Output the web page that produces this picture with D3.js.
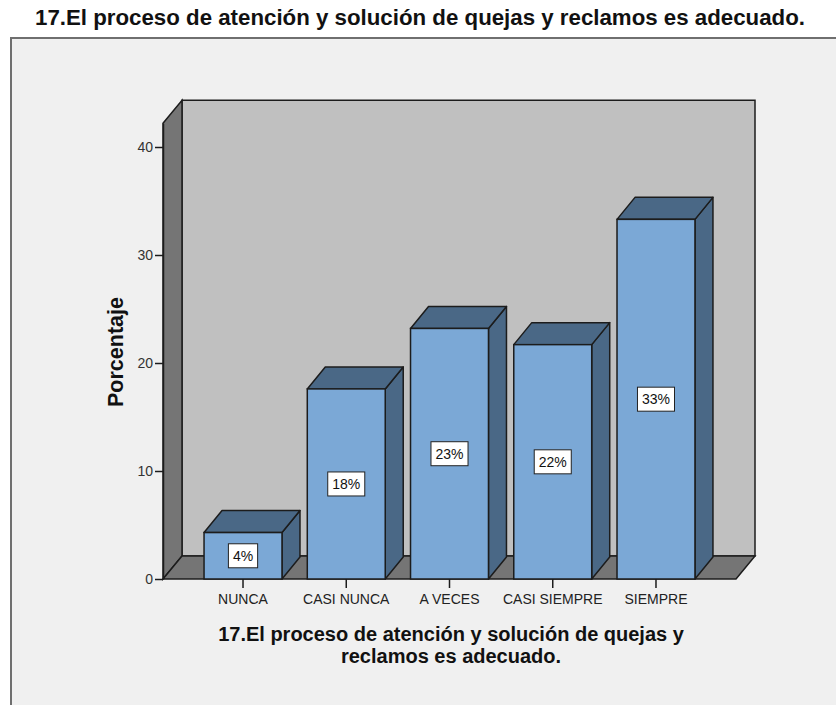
<!DOCTYPE html>
<html>
<head>
<meta charset="utf-8">
<script src="https://cdn.jsdelivr.net/npm/d3@7"></script>
<style>
  html, body { margin: 0; padding: 0; background: #ffffff; }
  svg { display: block; font-family: "Liberation Sans", Arial, sans-serif; }
</style>
</head>
<body>
<svg id="chart" width="836" height="705"></svg>
<script>
// Response categories and the share of answers for each (percent)
const categories = ["NUNCA", "CASI NUNCA", "A VECES", "CASI SIEMPRE", "SIEMPRE"];
const percentages = [4.3, 17.6, 23.2, 21.7, 33.3];
const yTicks = [0, 10, 20, 30, 40];
const chartTitle = "17.El proceso de atención y solución de quejas y reclamos es adecuado.";
const xTitleLines = ["17.El proceso de atención y solución de quejas y", "reclamos es adecuado."];
const yTitle = "Porcentaje";

const svg = d3.select("#chart");

// colours of the 3-D look
const C = {
  front: "#7ba8d6",
  shade: "#4a6886",
  backWall: "#c0c0c0",
  sideWall: "#757575",
  edge: "#1c1c1c",
  panel: "#f0f0f0"
};

// plot geometry
const x0 = 163, x1 = 736, yBase = 579, yTopPx = 147;
const wallDx = 19, wallDy = 23;   // depth of the walls/floor
const barDx = 18, barDy = 22;     // depth of each bar
const yMax = 42.2;

const y = d3.scaleLinear().domain([0, 40]).range([yBase, yTopPx]);
const x = d3.scaleBand().domain(categories).range([x0, x1])
  .paddingInner(0.245).paddingOuter(0.3975);

// chart title above the panel
svg.append("text")
  .attr("x", 420).attr("y", 25)
  .attr("text-anchor", "middle")
  .attr("font-size", 21.5).attr("font-weight", "bold").attr("fill", "#111")
  .attr("textLength", 770).attr("lengthAdjust", "spacingAndGlyphs")
  .text(chartTitle);

// panel frame
svg.append("rect")
  .attr("x", 11).attr("y", 38).attr("width", 900).attr("height", 720)
  .attr("fill", C.panel).attr("stroke", "#6f6f6f").attr("stroke-width", 2);

const poly = pts => pts.map(p => p.join(",")).join(" ");
const g = svg.append("g");
const yTopWall = y(yMax);

// back wall
g.append("polygon")
  .attr("points", poly([[x0 + wallDx, yTopWall - wallDy], [x1 + wallDx, yTopWall - wallDy],
                        [x1 + wallDx, yBase - wallDy], [x0 + wallDx, yBase - wallDy]]))
  .attr("fill", C.backWall).attr("stroke", C.edge).attr("stroke-width", 1.5);
// left side wall
g.append("polygon")
  .attr("points", poly([[x0, yTopWall], [x0 + wallDx, yTopWall - wallDy],
                        [x0 + wallDx, yBase - wallDy], [x0, yBase]]))
  .attr("fill", C.sideWall).attr("stroke", C.edge).attr("stroke-width", 1.5);
// floor
g.append("polygon")
  .attr("points", poly([[x0, yBase], [x0 + wallDx, yBase - wallDy],
                        [x1 + wallDx, yBase - wallDy], [x1, yBase]]))
  .attr("fill", C.sideWall).attr("stroke", C.edge).attr("stroke-width", 1.5);

// bars: front face, right side, top
const data = categories.map((c, i) => ({ c, v: percentages[i] }));
const bars = g.selectAll("g.bar").data(data).join("g").attr("class", "bar");
bars.each(function (d) {
  const b = d3.select(this);
  const L = x(d.c), R = x(d.c) + x.bandwidth(), T = y(d.v), B = yBase;
  b.append("polygon")
    .attr("points", poly([[R, T], [R + barDx, T - barDy], [R + barDx, B - barDy], [R, B]]))
    .attr("fill", C.shade).attr("stroke", C.edge).attr("stroke-width", 1.5).attr("stroke-linejoin", "round");
  b.append("polygon")
    .attr("points", poly([[L, T], [L + barDx, T - barDy], [R + barDx, T - barDy], [R, T]]))
    .attr("fill", C.shade).attr("stroke", C.edge).attr("stroke-width", 1.5).attr("stroke-linejoin", "round");
  b.append("rect")
    .attr("x", L).attr("y", T).attr("width", R - L).attr("height", B - T)
    .attr("fill", C.front).attr("stroke", C.edge).attr("stroke-width", 1.5);

  // value label box at the middle of the front face
  const cx = (L + R) / 2, cy = (T + B) / 2;
  const lbl = b.append("g");
  const t = lbl.append("text")
    .attr("x", cx).attr("y", cy + 5)
    .attr("text-anchor", "middle")
    .attr("font-size", 14).attr("fill", "#111")
    .text(d3.format(".0f")(d.v) + "%");
  const bb = t.node().getBBox();
  lbl.insert("rect", "text")
    .attr("x", cx - bb.width / 2 - 4.5).attr("y", cy - 12)
    .attr("width", bb.width + 9).attr("height", 24)
    .attr("fill", "#ffffff").attr("stroke", "#222").attr("stroke-width", 1);
});

// y axis
const yAxis = d3.axisLeft(d3.scaleLinear().domain([0, yMax]).range([yBase, yTopWall]))
  .tickValues(yTicks).tickSize(8).tickSizeOuter(0).tickPadding(2);
const ya = svg.append("g").attr("transform", `translate(${x0},0)`).call(yAxis);
ya.select(".domain").attr("stroke", C.edge).attr("stroke-width", 1.5);
ya.selectAll(".tick line").attr("stroke", C.edge).attr("stroke-width", 1.5);
ya.selectAll(".tick text").attr("font-size", 14).attr("fill", "#333")
  .attr("font-family", "Liberation Sans, Arial, sans-serif");

// x axis ticks and category labels
const xAxis = d3.axisBottom(x).tickSize(9).tickSizeOuter(0).tickPadding(6);
const xa = svg.append("g").attr("transform", `translate(0,${yBase})`).call(xAxis);
xa.select(".domain").remove();
xa.selectAll(".tick line").attr("stroke", C.edge).attr("stroke-width", 1.5);
xa.selectAll(".tick text").attr("font-size", 14).attr("fill", "#222")
  .attr("font-family", "Liberation Sans, Arial, sans-serif");

// axis titles
svg.append("text")
  .attr("transform", "translate(123,352) rotate(-90)")
  .attr("text-anchor", "middle")
  .attr("font-size", 21.5).attr("font-weight", "bold").attr("fill", "#111")
  .text(yTitle);

svg.append("g").selectAll("text").data(xTitleLines).join("text")
  .attr("x", 451).attr("y", (d, i) => 641 + i * 22)
  .attr("text-anchor", "middle")
  .attr("font-size", 20).attr("font-weight", "bold").attr("fill", "#111")
  .text(d => d);
</script>
</body>
</html>
